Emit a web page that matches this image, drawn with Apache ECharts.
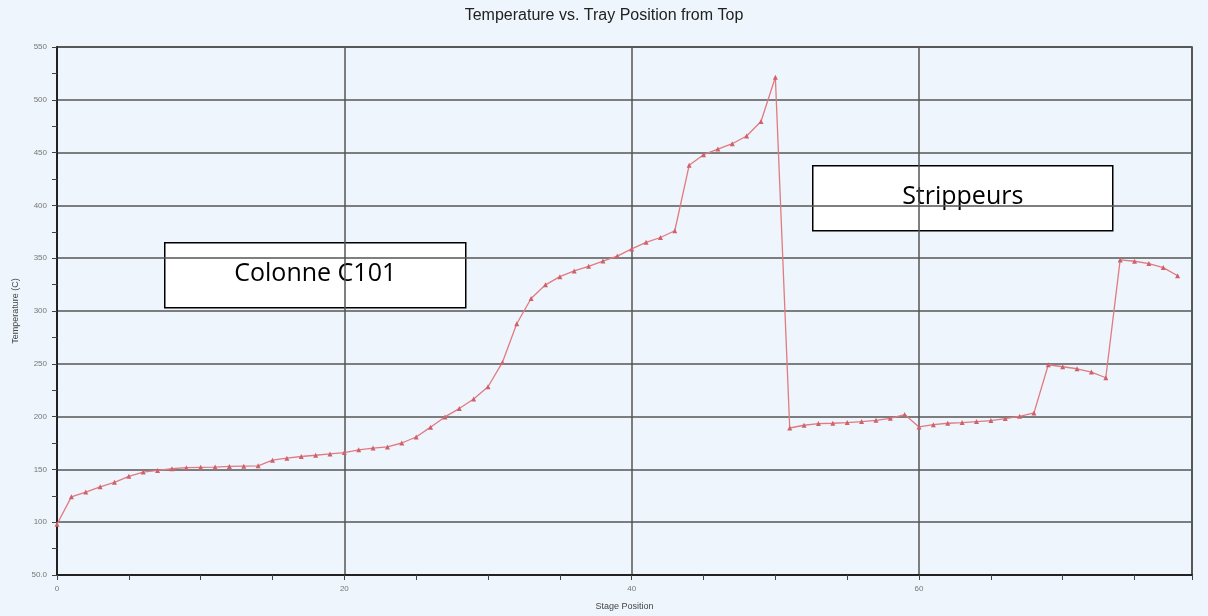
<!DOCTYPE html>
<html>
<head>
<meta charset="utf-8">
<script src="https://cdn.jsdelivr.net/npm/echarts@6/dist/echarts.min.js"></script>
<style>
html,body{margin:0;padding:0;background:#EEF5FC;}
#chart{width:1208px;height:616px;}
</style>
</head>
<body>
<div id="chart"></div>
<script>
const stages = [];
for (let i = 0; i <= 78; i++) stages.push(i);
const temperatures = [
  98, 124, 128.5, 133.5, 137.8, 143.4, 147.5, 149, 150.6, 151.6,
  152, 152.2, 152.8, 153.1, 153.4, 158.7, 160.6, 162.2, 163.4, 164.7,
  165.9, 168.5, 170.2, 171.3, 175, 180.7, 190, 199.7, 207.6, 216.6,
  228.3, 251.3, 287.9, 311.8, 324.8, 332.5, 337.9, 342.3, 347.3, 352,
  358.8, 365, 369.6, 376, 438, 448, 453.3, 458.4, 465.7, 479.4,
  521.3, 189.2, 191.8, 193.4, 193.7, 194.3, 195.3, 196.5, 198.4, 201.9,
  190.2, 192.4, 193.7, 194.3, 195.3, 196.2, 198.1, 200.3, 203.5, 249.1,
  247.2, 245.3, 242.2, 236.8, 348.4, 347.1, 344.9, 341.1, 333.4
];
const xTicks = { min: 0, max: 79, interval: 20 };
const yTicks = { min: 50, max: 550, interval: 50 };
const titleText = 'Temperature vs. Tray Position from Top';
const xName = 'Stage Position';
const yName = 'Temperature (C)';
const notes = ['Colonne C101', 'Strippeurs'];

const chart = echarts.init(document.getElementById('chart'), null, {renderer: 'canvas'});
const gridColor = '#555';
chart.setOption({
  backgroundColor: '#EEF5FC',
  animation: false,
  title: {
    text: titleText, left: 'center', top: 3,
    textStyle: {fontFamily: 'Liberation Sans', fontSize: 16, fontWeight: 'normal', color: '#222'}
  },
  grid: {left: 57, right: 16, top: 47, bottom: 41, show: true, borderColor: '#333', borderWidth: 1.5, backgroundColor: '#EEF5FC'},
  xAxis: {
    type: 'value', min: xTicks.min, max: xTicks.max, interval: xTicks.interval,
    name: xName, nameLocation: 'middle', nameGap: 27,
    nameTextStyle: {fontFamily: 'Liberation Sans', fontSize: 9, color: '#444'},
    axisLine: {show: true, lineStyle: {color: '#222', width: 2}},
    axisTick: {show: true, length: 5, lineStyle: {color: '#444'}},
    minorTick: {show: true, splitNumber: 4, length: 5, lineStyle: {color: '#444'}},
    axisLabel: {fontFamily: 'Liberation Sans', fontSize: 8, color: '#777', margin: 10, showMaxLabel: false},
    splitLine: {show: true, lineStyle: {color: gridColor, width: 1.5}}
  },
  yAxis: {
    type: 'value', min: yTicks.min, max: yTicks.max, interval: yTicks.interval,
    name: yName, nameLocation: 'middle', nameGap: 37, nameRotate: 90,
    nameTextStyle: {fontFamily: 'Liberation Sans', fontSize: 9, color: '#444'},
    axisLine: {show: true, lineStyle: {color: '#222', width: 2}},
    axisTick: {show: true, length: 5, lineStyle: {color: '#444'}},
    minorTick: {show: true, splitNumber: 2, length: 5, lineStyle: {color: '#444'}},
    axisLabel: {fontFamily: 'Liberation Sans', fontSize: 8, color: '#777', margin: 10,
      formatter: v => v === yTicks.min ? v.toFixed(1) : String(v)},
    splitLine: {show: true, lineStyle: {color: gridColor, width: 1.5}}
  },
  series: [{
    type: 'line',
    data: stages.map((s, i) => [s, temperatures[i]]),
    symbol: 'triangle', symbolSize: 5, showAllSymbol: true,
    lineStyle: {color: '#E07B80', width: 1.3},
    itemStyle: {color: '#D0606A'},
    z: 5
  }],
  graphic: [
    {type: 'group', left: 164, top: 242, z: 100, children: [
      {type: 'rect', shape: {x: 0, y: 0, width: 301, height: 65}, style: {fill: '#fff', stroke: '#000', lineWidth: 1.5}},
      {type: 'text', x: 150.5, y: 31, style: {text: notes[0], fontFamily: 'Open Sans', fontSize: 25, fill: '#000', align: 'center', verticalAlign: 'middle'}}
    ]},
    {type: 'group', left: 812, top: 165, z: 100, children: [
      {type: 'rect', shape: {x: 0, y: 0, width: 300, height: 65}, style: {fill: '#fff', stroke: '#000', lineWidth: 1.5}},
      {type: 'text', x: 150, y: 31, style: {text: notes[1], fontFamily: 'Open Sans', fontSize: 25, fill: '#000', align: 'center', verticalAlign: 'middle'}}
    ]}
  ]
});
</script>
</body>
</html>
